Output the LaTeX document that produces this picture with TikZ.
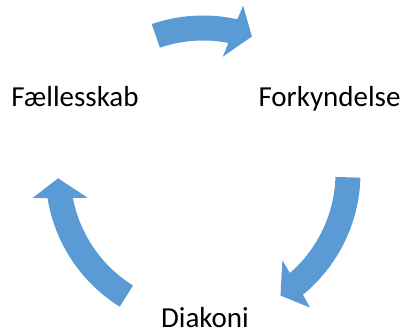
\documentclass[tikz,border=0pt]{standalone}
\usepackage{fontspec}
\setmainfont{Carlito}
\definecolor{cycleblue}{HTML}{5B9BD5}
\newcommand\cyclearrow[2]{%
  \fill[arrowfill] ({#1}:157.5pt) arc[start angle={#1}, end angle={#2+7.1}, radius=157.5pt]
    -- ({#2+6.2}:172pt) -- ({#2}:145pt) -- ({#2+10}:118pt) -- ({#2+8.7}:132.5pt)
    arc[start angle={#2+8.7}, end angle={#1}, radius=132.5pt] -- cycle;}
\tikzset{
  arrowfill/.style={fill=cycleblue},
  label/.style={inner sep=0pt, anchor=base, font=\fontsize{29}{35}\selectfont, text=black}
}
\begin{document}
\begin{tikzpicture}[x=1pt,y=1pt]
\useasboundingbox (0,0) rectangle (405,333);
\begin{scope}[shift={(203,160)}]
  \cyclearrow{109}{70.3}
  \cyclearrow{-1.7}{-57.7}
  \cyclearrow{238.1}{182.1}
\end{scope}
\node[label] (faell) at (75,226) {Fællesskab};
\node[label] (fork) at (329.5,226) {Forkyndelse};
\node[label] (diak) at (205,6) {Diakoni};
\end{tikzpicture}
\end{document}
